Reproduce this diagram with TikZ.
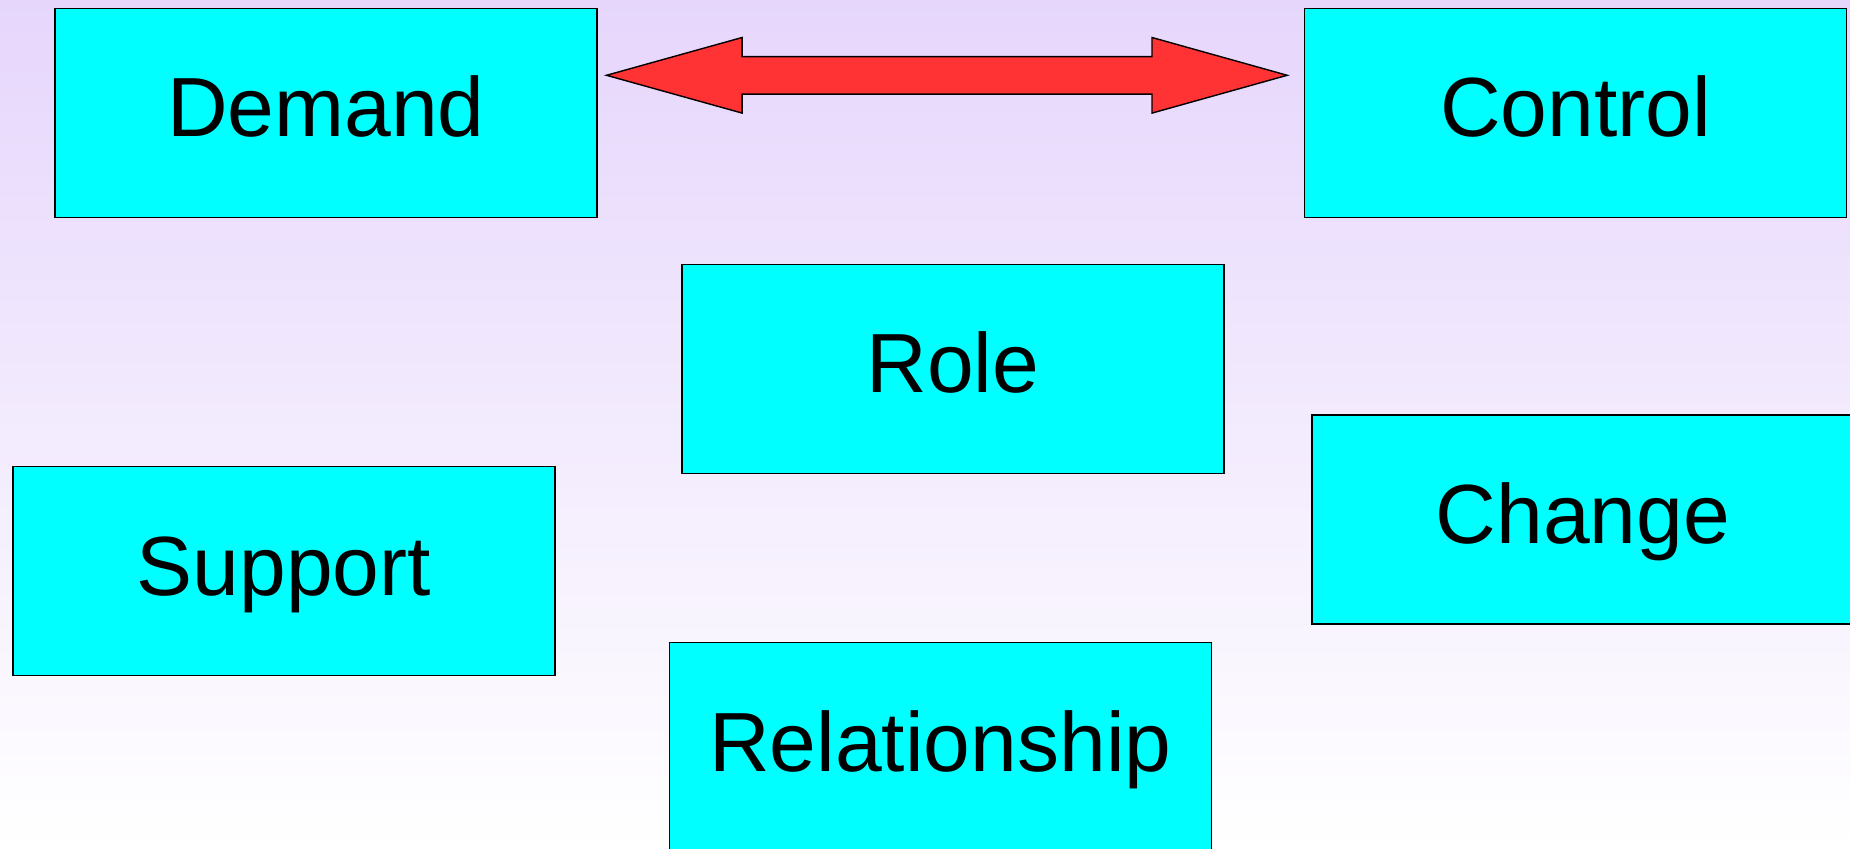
\documentclass[tikz,border=0pt]{standalone}
\usepackage{fontspec}
\setmainfont{Liberation Sans}
\usetikzlibrary{calc}
\definecolor{bgtop}{RGB}{230,214,252}
\definecolor{boxfill}{RGB}{0,255,255}
\definecolor{arrowred}{RGB}{255,51,51}
\begin{document}
\begin{tikzpicture}[x=0.5pt,y=-0.5pt,
  card/.style={draw=black, line width=0.7pt, fill=boxfill, outer sep=0pt, inner sep=0pt,
    minimum width=271pt, minimum height=104.5pt,
    font=\fontsize{42}{48}\selectfont, text height=30.1pt, text depth=6.1pt},
  bigarrow/.style={draw=black, line width=0.7pt, fill=arrowred, line join=miter}]
\shade[top color=bgtop, bottom color=white] (0,0) rectangle (1850,849);
\useasboundingbox (0,0) rectangle (1850,849);
\node[card] (demand) at (326,112.8) {Demand};
\node[card] (control) at (1575.7,112.8) {Control};
\node[card] (role) at (953,368.8) {Role};
\node[card] (support) at (283.8,571.2) {Support};
\node[card] (change) at (1583,519.5) {Change};
\node[card] (relationship) at (940.4,747) {Relationship};
\coordinate (L) at ($(demand.east)+(9.5,-37.5)$);
\coordinate (R) at ($(control.west)+(-17.5,-37.5)$);
\draw[bigarrow] (L) -- ($(L)+(135.6,-37.8)$) -- ($(L)+(135.6,-18.7)$)
  -- ($(R)+(-135.2,-18.7)$) -- ($(R)+(-135.2,-37.8)$) -- (R)
  -- ($(R)+(-135.2,37.8)$) -- ($(R)+(-135.2,18.9)$)
  -- ($(L)+(135.6,18.9)$) -- ($(L)+(135.6,37.8)$) -- cycle;
\end{tikzpicture}
\end{document}
